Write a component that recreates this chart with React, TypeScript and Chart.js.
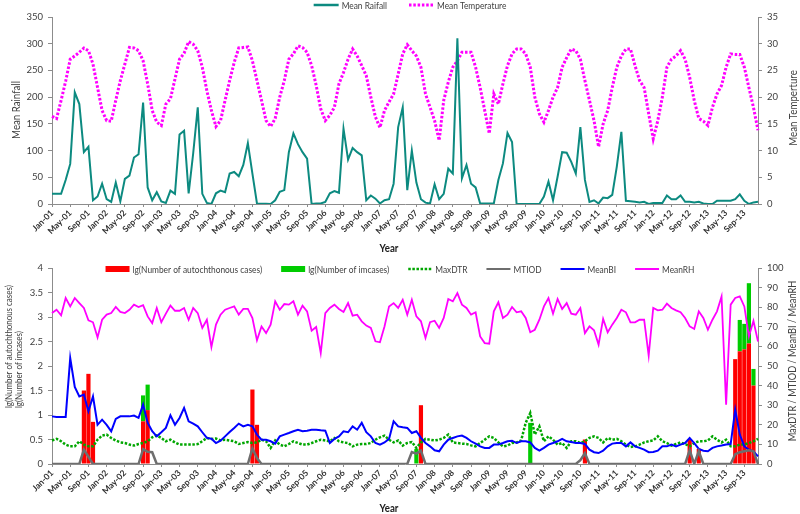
import React, { useEffect, useRef } from 'react';
import { Chart, registerables } from 'chart.js';

Chart.register(...registerables);

const FONT = "Lato, 'Liberation Sans', sans-serif";
const SQUEEZE = 0.88;

const monthNames = ['Jan', 'Feb', 'Mar', 'Apr', 'May', 'Jun', 'Jul', 'Aug', 'Sep', 'Oct', 'Nov', 'Dec'];
const yearCodes = ['01', '02', '03', '04', '05', '06', '07', '08', '09', '10', '11', '12', '13'];
const categories: string[] = yearCodes.flatMap((y) => monthNames.map((m) => `${m}-${y}`));

// ---- Top panel ----
const meanRainfall = [
  19, 19, 19, 45, 75, 209, 187, 97, 107, 7, 14, 38,
  9, 4, 40, 5, 47, 53, 87, 93, 190, 31, 7, 22,
  5, 2, 25, 19, 130, 137, 20, 95, 181, 19, 2, 0,
  20, 25, 22, 57, 60, 52, 73, 114, 57, 1, 0.6, 0.6,
  0, 7, 23, 26, 97, 132, 112, 97, 85, 0, 1, 1,
  4, 20, 24, 21, 141, 83, 105, 97, 91, 7, 16, 10,
  1, 7, 9, 38, 144, 181, 26, 100, 40, 9, 2.5, 1,
  37, 9, 19, 66, 57, 310, 48, 73, 38, 31, 1, 1,
  1, 1, 45, 76, 133, 116, 0, 0, 0, 0, 0, 0,
  14, 42, 7, 51, 97, 96, 79, 57, 144, 45, 4, 7,
  1, 12, 11, 17, 70, 135, 6, 5, 4, 3, 4, 0,
  2, 2, 2, 16, 9, 9, 16, 4, 4, 3, 4, 1,
  0, 0, 6, 6, 6, 6, 9, 18, 6, 0, 3, 4,
];

const meanTemperature = [
  16.4, 16.0, 19.4, 23, 27.1, 27.7, 28.4, 29.2, 28.7, 26.2, 21.8, 17.5,
  15.6, 15.5, 19.4, 23.1, 26.2, 29.3, 29.2, 28.7, 26.8, 22.5, 17.5, 15.3,
  14.7, 18.7, 19.7, 23.4, 27.1, 28.2, 30.4, 29.9, 28.7, 25.6, 21.2, 17.5,
  14.5, 15.6, 19.4, 23.1, 26.5, 29.2, 29.3, 29.4, 26.8, 23.1, 19.4, 15.6,
  14.5, 16, 20, 23.1, 27.1, 28.1, 29.6, 29.3, 28.4, 25.9, 22.2, 17.8,
  15.6, 16.6, 18.1, 22.5, 24.6, 27.1, 29, 27.7, 25.9, 24, 20, 16.3,
  14.3, 17.5, 19.1, 20.6, 24.3, 28.1, 29.8, 28.7, 27.7, 25.6, 20.6, 18.1,
  15.6, 11.9, 19.4, 22.8, 25.6, 26.8, 28.4, 28.4, 28.4, 25.6, 21.8, 17.5,
  13.2, 20.6, 18.7, 22.5, 25.9, 28.1, 29, 29, 28.1, 25.6, 20, 16.9,
  15.3, 17.5, 20, 21.8, 25.6, 27.4, 29, 28.7, 27.1, 23.1, 19.4, 15.6,
  10.7, 15, 17.5, 21.8, 25.6, 27.7, 29, 29, 25.9, 23.1, 21.8, 16.9,
  12.2, 15.6, 20, 25.6, 27.1, 27.7, 28.7, 27.1, 23.7, 19.4, 16, 15.5,
  14.7, 18.1, 20.6, 22.2, 25.6, 28.1, 28, 28, 25.6, 21.8, 18.1, 13.8,
];

const rainTicks = [0, 50, 100, 150, 200, 250, 300, 350];
const tempTicks = [0, 5, 10, 15, 20, 25, 30, 35];

// ---- Bottom panel ----
const lgAutochthonous = [
  0, 0, 0, 0, 0, 0, 0, 1.5, 1.84, 0.86, 0, 0,
  0, 0, 0, 0, 0, 0, 0, 0, 0.87, 1.1, 0, 0,
  0, 0, 0, 0, 0, 0, 0, 0, 0, 0, 0, 0,
  0, 0, 0, 0, 0, 0, 0, 0, 1.52, 0.8, 0, 0,
  0, 0, 0, 0, 0, 0, 0, 0, 0, 0, 0, 0,
  0, 0, 0, 0, 0, 0, 0, 0, 0, 0, 0, 0,
  0, 0, 0, 0, 0, 0, 0, 0, 0, 1.2, 0, 0,
  0, 0, 0, 0, 0, 0, 0, 0, 0, 0, 0, 0,
  0, 0, 0, 0, 0, 0, 0, 0, 0, 0, 0, 0,
  0, 0, 0, 0, 0, 0, 0, 0, 0, 0.5, 0, 0,
  0, 0, 0, 0, 0, 0, 0, 0, 0, 0, 0, 0,
  0, 0, 0, 0, 0, 0, 0, 0, 0.51, 0, 0.31, 0,
  0, 0, 0, 0, 0, 0, 2.14, 2.3, 2.34, 2.46, 1.6, 0,
];

const lgImcases = [
  0, 0, 0, 0, 0, 0, 0, 0, 0, 0, 0, 0,
  0, 0, 0, 0, 0, 0, 0, 0, 0.53, 0.52, 0, 0,
  0, 0, 0, 0, 0, 0, 0, 0, 0, 0, 0, 0,
  0, 0, 0, 0, 0, 0, 0, 0, 0, 0, 0, 0,
  0, 0, 0, 0, 0, 0, 0, 0, 0, 0, 0, 0,
  0, 0, 0, 0, 0, 0, 0, 0, 0, 0, 0, 0,
  0, 0, 0, 0, 0, 0, 0, 0, 0.31, 0, 0, 0,
  0, 0, 0, 0, 0, 0, 0, 0, 0, 0, 0, 0,
  0, 0, 0, 0, 0, 0, 0, 0, 0, 0.84, 0, 0,
  0, 0, 0, 0, 0, 0, 0, 0, 0, 0, 0, 0,
  0, 0, 0, 0, 0, 0, 0, 0, 0, 0, 0, 0,
  0, 0, 0, 0, 0, 0, 0, 0, 0, 0, 0, 0,
  0, 0, 0, 0, 0, 0, 0, 0.64, 0.52, 1.23, 0.34, 0,
];

const maxDTR = [
  12, 12.8, 11.6, 9.9, 9, 9, 11.6, 9.9, 9, 9, 12.4, 14.5,
  15, 13.3, 12, 11, 10.7, 9.9, 9.4, 10.2, 10.7, 11.6, 13.6, 14.6,
  13.3, 11.6, 12.4, 11, 9.9, 9.9, 9.9, 9.9, 10.2, 11.6, 13.3, 12.8,
  13, 12, 12.4, 12, 11.6, 10.2, 10.7, 11.2, 10.7, 11, 12.4, 11.6,
  8.2, 12, 9.9, 9, 10.2, 11.6, 10.7, 9.9, 9.9, 10.7, 11.6, 12.4,
  12, 11.6, 13.3, 11.6, 11, 10.7, 9, 9.9, 10.2, 10.2, 10.7, 12.4,
  13.6, 14.5, 12.4, 11, 12, 9.4, 10.7, 11.2, 8.2, 11, 12.8, 12.4,
  12, 12.4, 13.3, 15, 11, 10.7, 10.4, 10.2, 9.5, 9, 10.7, 12.4,
  14.1, 13.3, 11, 9, 9.4, 10.7, 11, 12, 21, 26, 15, 19.2,
  11.6, 14.1, 12.4, 9.9, 10.7, 8.2, 11.6, 11.6, 10.7, 11.6, 13.3, 14.1,
  13.3, 11, 13.3, 12.4, 12.8, 11.6, 9.9, 8.7, 9, 9.9, 11, 11.6,
  12, 14.1, 11.6, 10.7, 9.4, 10.2, 11, 10.2, 9, 10.7, 11.6, 11.6,
  12, 14.1, 12.4, 11, 12.4, 9, 9, 9.9, 9.9, 10.7, 11.6, 12.8,
];

const mtiod = [
  0, 0, 0, 0, 0, 0, 0, 7.3, 3.7, 0, 0, 0,
  0, 0, 0, 0, 0, 0, 0, 0, 7.6, 6.2, 6.0, 0,
  0, 0, 0, 0, 0, 0, 0, 0, 0, 0, 0, 0,
  0, 0, 0, 0, 0, 0, 0, 0, 8, 3, 0, 0,
  0, 0, 0, 0, 0, 0, 0, 0, 0, 0, 0, 0,
  0, 0, 0, 0, 0, 0, 0, 0, 0, 0, 0, 0,
  0, 0, 0, 0, 0, 0, 0, 6.1, 5.3, 6.8, 0, 0,
  0, 0, 0, 0, 0, 0, 0, 0, 0, 0, 0, 0,
  0, 0, 0, 0, 0, 0, 0, 0, 0, 0, 0, 0,
  0, 0, 0, 0, 0, 0, 0, 0, 2, 5.5, 0, 0,
  0, 0, 0, 0, 0, 0, 0, 0, 0, 0, 0, 0,
  0, 0, 0, 0, 0, 0, 0, 0, 7, 0, 6.5, 0,
  0, 0, 0, 0, 0, 0, 5, 6, 6.5, 7, 6.5, 0,
];

const meanBI = [
  24.3, 24, 24, 24, 54, 39.3, 34.5, 35.4, 26.9, 34.5, 20, 22.6,
  20, 16.7, 23, 24.3, 24.3, 24.3, 24.7, 23.5, 30.3, 21, 16.7, 14.1,
  16.2, 18.4, 24.8, 20, 23.5, 28.6, 21.8, 20.6, 19.2, 16.2, 13.3, 12.9,
  10.7, 11.9, 14.1, 16.3, 18.4, 20.6, 19.2, 20, 19.2, 15, 12.4, 12.4,
  11.6, 10.4, 14.1, 15, 15.8, 16.7, 17.5, 16.7, 17, 17.5, 17.5, 17.2,
  17, 10.7, 12.8, 14.1, 16.7, 16.2, 19.2, 17.5, 21, 16.2, 14.1, 10.7,
  9.9, 11, 12.8, 21.8, 19.2, 18.7, 18.4, 15.8, 16.7, 13.3, 10.7, 9,
  7, 6.5, 9.9, 12.4, 13.3, 14.1, 14.5, 13.3, 11.6, 10.4, 9, 8.2,
  8.2, 9.9, 9.9, 10.7, 11.6, 11.9, 10.7, 11.6, 11.6, 11, 8.2, 6.8,
  8.2, 9.9, 10.7, 11.6, 12.8, 11.6, 11.2, 10.7, 10.7, 10.2, 7.3, 6,
  5.6, 6.8, 9, 10.4, 10.7, 10.7, 9, 11, 9, 8.2, 7.3, 6,
  6.1, 6.8, 9, 9, 9.9, 9, 9.9, 10.7, 13.3, 10.7, 7.7, 6.8,
  6.5, 8.2, 9, 9.4, 9.9, 10.2, 27.7, 15, 9, 7.3, 6.5, 3.9,
];

const meanRH = [
  77, 78.7, 75.9, 84.7, 80.4, 84.7, 82.1, 79.6, 73.3, 72.3, 64.6, 73.6,
  76.2, 77, 80.1, 77.6, 77, 78.7, 81.3, 80.1, 81, 75.3, 71.9, 79.6,
  72.3, 76.7, 80.8, 78.2, 78.2, 79.6, 73.6, 79.6, 77, 69.4, 73.6, 59.7,
  71.1, 76.2, 78.7, 79.6, 80.4, 76.2, 79.1, 79.1, 74.5, 63.1, 70.2, 66.8,
  71.1, 83, 78.7, 81.6, 81.3, 83, 76.2, 80.8, 77.9, 68, 69.9, 56.6,
  77, 79.6, 81.3, 79.1, 77.6, 82.1, 75.7, 76.2, 72.8, 70.6, 69.4, 62.6,
  62.1, 70.2, 80.4, 82.1, 79.6, 83.8, 76.2, 83.8, 75.3, 72.8, 64.3, 72.4,
  73.1, 69.4, 74.5, 84.2, 83, 87.2, 81.3, 79.6, 76.2, 77.4, 65.1, 61.7,
  61.4, 77.9, 82.5, 74.5, 76.2, 80.1, 77.4, 77.9, 74.5, 67.2, 68.5, 73.6,
  80.4, 84.7, 76.7, 84.2, 79.1, 82.1, 76.7, 76.2, 79.6, 66.8, 70.2, 68.2,
  60.9, 74, 67.2, 71.1, 74.5, 78.7, 77.4, 72.3, 72.3, 73.6, 73.6, 55.3,
  79.6, 78.4, 78.7, 81.8, 79.6, 78.4, 77.4, 74.5, 70.2, 68.9, 77.9, 74.5,
  68.5, 73.6, 77.9, 85.5, 30.3, 81.3, 84.7, 85.5, 80.4, 65.1, 73, 62.5,
];

const lgTicks = [0, 0.5, 1, 1.5, 2, 2.5, 3, 3.5, 4];
const rightTicks = [0, 10, 20, 30, 40, 50, 60, 70, 80, 90, 100];

// ---- helpers ----
type LegendItem = { text: string; kind: 'box' | 'line'; color: string; width?: number; dash?: number[] };
type TextItem = { text: string; x: number; y: number; rot?: number; align?: CanvasTextAlign; size: number; bold?: boolean; color?: string };

function overlayPlugin(legend: { items: LegendItem[]; cx: number; y: number; size: number; sampleW: number; gap: number; itemGap: number }, texts: TextItem[]) {
  return {
    id: 'overlay',
    afterDraw(chart: any) {
      const ctx: CanvasRenderingContext2D = chart.ctx;
      ctx.save();
      ctx.font = `${legend.size}px ${FONT}`;
      ctx.textBaseline = 'middle';
      ctx.textAlign = 'left';
      const textW = legend.items.map((it) => ctx.measureText(it.text).width * SQUEEZE);
      const widths = textW.map((w) => legend.sampleW + legend.gap + w);
      const total = widths.reduce((a, b) => a + b, 0) + legend.itemGap * (legend.items.length - 1);
      let x = legend.cx - total / 2;
      legend.items.forEach((it, i) => {
        if (it.kind === 'box') {
          ctx.fillStyle = it.color;
          ctx.fillRect(x, legend.y - 3, legend.sampleW, 6);
        } else {
          ctx.strokeStyle = it.color;
          ctx.lineWidth = it.width ?? 2;
          ctx.setLineDash(it.dash ?? []);
          ctx.beginPath();
          ctx.moveTo(x, legend.y);
          ctx.lineTo(x + legend.sampleW, legend.y);
          ctx.stroke();
          ctx.setLineDash([]);
        }
        ctx.fillStyle = '#404040';
        ctx.fillText(it.text, x + legend.sampleW + legend.gap, legend.y + 0.5, textW[i]);
        x += widths[i] + legend.itemGap;
      });
      texts.forEach((t) => {
        ctx.save();
        ctx.translate(t.x, t.y);
        if (t.rot) ctx.rotate(t.rot);
        ctx.font = `${t.bold ? 'bold ' : ''}${t.size}px ${FONT}`;
        ctx.fillStyle = t.color ?? '#404040';
        ctx.textAlign = t.align ?? 'center';
        ctx.textBaseline = 'middle';
        ctx.fillText(t.text, 0, 0, ctx.measureText(t.text).width * SQUEEZE);
        ctx.restore();
      });
      ctx.restore();
    },
  };
}

const AXIS = '#8c8c8c';
const TICK = '#404040';

function xScale(height: number) {
  return {
    type: 'category' as const,
    offset: false,
    stacked: true,
    grid: { display: true, drawOnChartArea: false, drawTicks: true, tickLength: 3, color: AXIS, offset: false },
    border: { display: true, color: AXIS, width: 1 },
    ticks: {
      autoSkip: false,
      maxRotation: 45,
      minRotation: 45,
      padding: 1,
      color: '#303030',
      font: { family: FONT, size: 8.5, weight: 'bold' as const },
    },
    afterBuildTicks: (axis: any) => {
      axis.ticks = axis.ticks.filter((t: any) => t.value % 4 === 0);
    },
    afterFit: (axis: any) => {
      axis.height = height;
    },
  };
}

function yScale(position: 'left' | 'right', ticksList: number[], width: number, extra: any = {}) {
  return {
    type: 'linear' as const,
    position,
    min: ticksList[0],
    max: ticksList[ticksList.length - 1],
    grid: { display: true, drawOnChartArea: false, drawTicks: true, tickLength: 4, color: AXIS },
    border: { display: true, color: AXIS, width: 1 },
    ticks: {
      stepSize: ticksList[1] - ticksList[0],
      padding: 5,
      color: TICK,
      font: { family: FONT, size: 9.5 },
      callback: (v: any) => String(Number(v)),
    },
    afterFit: (axis: any) => {
      axis.width = width;
    },
    ...extra,
  };
}

const TopChart: React.FC = () => {
  const ref = useRef<HTMLCanvasElement>(null);
  useEffect(() => {
    if (!ref.current) return;
    const chart = new Chart(ref.current, {
      type: 'line',
      data: {
        labels: categories,
        datasets: [
          {
            label: 'Mean Rainfall',
            data: meanRainfall,
            yAxisID: 'y',
            borderColor: '#0c8a80',
            borderWidth: 2,
            pointRadius: 0,
            tension: 0,
            fill: false,
          },
          {
            label: 'Mean Temperature',
            data: meanTemperature,
            yAxisID: 'y1',
            borderColor: '#ff00ff',
            borderWidth: 3,
            borderDash: [2.5, 1.8],
            pointRadius: 0,
            tension: 0,
            fill: false,
          },
        ],
      },
      options: {
        responsive: false,
        animation: false,
        layout: { padding: { top: 17, left: 0, right: 0, bottom: 0 } },
        plugins: { legend: { display: false }, tooltip: { enabled: false } },
        scales: {
          x: xScale(52) as any,
          y: yScale('left', rainTicks, 52) as any,
          y1: yScale('right', tempTicks, 42) as any,
        },
      },
      plugins: [
        overlayPlugin(
          {
            items: [
              { text: 'Mean Raifall', kind: 'line', color: '#0c8a80', width: 2.5 },
              { text: 'Mean Temperature', kind: 'line', color: '#ff00ff', width: 3, dash: [2.5, 1.8] },
            ],
            cx: 410,
            y: 5,
            size: 9.5,
            sampleW: 25,
            gap: 3,
            itemGap: 22,
          },
          [
            { text: 'Mean Rainfall', x: 16, y: 110, rot: -Math.PI / 2, size: 11 },
            { text: 'Mean Temperture', x: 793, y: 108, rot: -Math.PI / 2, size: 11 },
            { text: 'Year', x: 389, y: 248, size: 11, bold: true, color: '#202020' },
          ]
        ),
      ],
    });
    return () => chart.destroy();
  }, []);
  return <canvas ref={ref} width={800} height={256} style={{ position: 'absolute', left: 0, top: 0, display: 'block' }} />;
};

const BottomChart: React.FC = () => {
  const ref = useRef<HTMLCanvasElement>(null);
  useEffect(() => {
    if (!ref.current) return;
    const chart = new Chart(ref.current, {
      type: 'bar',
      data: {
        labels: categories,
        datasets: [
          {
            type: 'bar',
            label: 'lg(Number of autochthonous cases)',
            data: lgAutochthonous,
            yAxisID: 'y',
            backgroundColor: '#ff0000',
            borderWidth: 0,
            barPercentage: 0.92,
            categoryPercentage: 1,
            stack: 'cases',
            order: 10,
          },
          {
            type: 'bar',
            label: 'lg(Number of imcases)',
            data: lgImcases,
            yAxisID: 'y',
            backgroundColor: '#00cc00',
            borderWidth: 0,
            barPercentage: 0.92,
            categoryPercentage: 1,
            stack: 'cases',
            order: 10,
          },
          {
            type: 'line',
            label: 'MaxDTR',
            data: maxDTR,
            yAxisID: 'y1',
            borderColor: '#00a600',
            borderWidth: 2.5,
            borderDash: [2.5, 1.6],
            pointRadius: 0,
            tension: 0,
            fill: false,
            order: 4,
          },
          {
            type: 'line',
            label: 'MTIOD',
            data: mtiod,
            yAxisID: 'y1',
            borderColor: '#6e6e6e',
            borderWidth: 2.5,
            pointRadius: 0,
            tension: 0,
            fill: false,
            order: 2,
          },
          {
            type: 'line',
            label: 'MeanBI',
            data: meanBI,
            yAxisID: 'y1',
            borderColor: '#0000ff',
            borderWidth: 2,
            pointRadius: 0,
            tension: 0,
            fill: false,
            order: 3,
          },
          {
            type: 'line',
            label: 'MeanRH',
            data: meanRH,
            yAxisID: 'y1',
            borderColor: '#ff00ff',
            borderWidth: 1.8,
            pointRadius: 0,
            tension: 0,
            fill: false,
            order: 5,
          },
        ] as any,
      },
      options: {
        responsive: false,
        animation: false,
        layout: { padding: { top: 12, left: 0, right: 0, bottom: 0 } },
        plugins: { legend: { display: false }, tooltip: { enabled: false } },
        scales: {
          x: xScale(50) as any,
          y: yScale('left', lgTicks, 52, { stacked: true }) as any,
          y1: yScale('right', rightTicks, 42) as any,
        },
      },
      plugins: [
        overlayPlugin(
          {
            items: [
              { text: 'lg(Number of autochthonous cases)', kind: 'box', color: '#ff0000' },
              { text: 'lg(Number of imcases)', kind: 'box', color: '#00cc00' },
              { text: 'MaxDTR', kind: 'line', color: '#00a600', width: 2.5, dash: [2.5, 1.6] },
              { text: 'MTIOD', kind: 'line', color: '#6e6e6e', width: 2 },
              { text: 'MeanBI', kind: 'line', color: '#0000ff', width: 2 },
              { text: 'MeanRH', kind: 'line', color: '#ff00ff', width: 2 },
            ],
            cx: 400,
            y: 13,
            size: 9.5,
            sampleW: 24,
            gap: 3,
            itemGap: 19,
          },
          [
            { text: 'lg(Number of autochthonous cases)', x: 9, y: 152, rot: -Math.PI / 2, align: 'left', size: 9 },
            { text: 'lg(Number of imcases)', x: 19, y: 152, rot: -Math.PI / 2, align: 'left', size: 9 },
            { text: 'MaxDTR / MTIOD / MeanBI / MeanRH', x: 793, y: 105, rot: -Math.PI / 2, size: 10.5 },
            { text: 'Year', x: 389, y: 252, size: 11, bold: true, color: '#202020' },
          ]
        ),
      ],
    });
    return () => chart.destroy();
  }, []);
  return <canvas ref={ref} width={800} height={258} style={{ position: 'absolute', left: 0, top: 256, display: 'block' }} />;
};

export default function App() {
  return (
    <div style={{ position: 'absolute', left: 0, top: 0, width: 800, height: 514, background: '#ffffff' }}>
      <TopChart />
      <BottomChart />
    </div>
  );
}
